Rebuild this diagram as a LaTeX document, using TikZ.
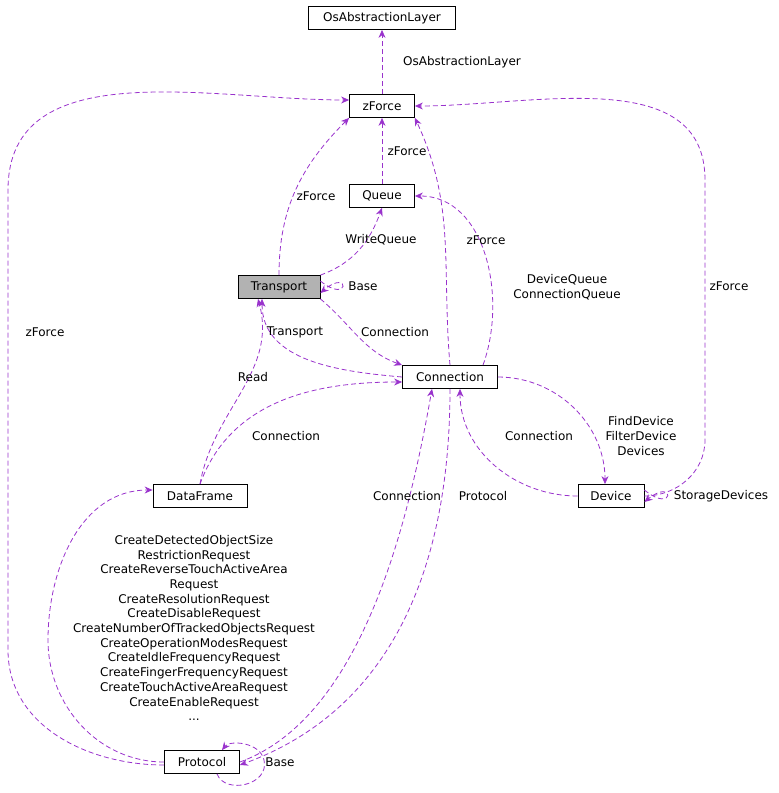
\documentclass[tikz,border=0pt]{standalone}
\usepackage{fontspec}
\setmainfont{DejaVu Sans}
\usetikzlibrary{arrows.meta}
\definecolor{linkc}{RGB}{153,50,204}
\tikzset{every loop/.style={}}

\begin{document}
\begin{tikzpicture}[x=1pt,y=-1pt,>={Stealth[length=8pt,width=7pt]},
                    font=\fontsize{12}{14.7}\selectfont,
                    cls/.style={draw,thick,minimum height=23pt,inner sep=2pt,fill=white},
                    dep/.style={->,dashed,linkc,thick,dash pattern=on 5pt off 3pt},
                    lbl/.style={inner sep=1pt,align=center}]
  \useasboundingbox (0,0) rectangle (779,793);

  \node[cls,minimum width=147pt] (osal) at (382,18) {OsAbstractionLayer};
  \node[cls,minimum width=65pt] (zforce) at (382,106) {zForce};
  \node[cls,minimum width=65pt] (queue) at (382,196) {Queue};
  \node[cls,minimum width=82pt,fill=black!30] (transport) at (279,287) {Transport};
  \node[cls,minimum width=95pt] (connection) at (450,377) {Connection};
  \node[cls,minimum width=66pt] (device) at (611,496) {Device};
  \node[cls,minimum width=94pt] (dataframe) at (200,496) {DataFrame};
  \node[cls,minimum width=75pt] (protocol) at (202,762) {Protocol};

  \path[dep]
    (zforce) edge (osal)
    (queue) edge (zforce)
    (transport.north) edge[out=90,in=225] (zforce.south west)
    (transport.north east) edge[out=20,in=250] (queue.south)
    (transport.south east) edge[out=-40,in=160] (connection.north west)
    (connection.west) edge[out=175,in=-90] ([xshift=-17pt]transport.south)
    (connection.north) edge[out=95,in=-65] (zforce.south east)
    ([xshift=33pt]connection.north) edge[out=70,in=0] (queue.east)
    (dataframe.north) edge[out=80,in=-75] ([xshift=-21pt]transport.south)
    (dataframe.north) edge[out=70,in=180] ([yshift=-5pt]connection.west)
    (connection.east) edge[out=0,in=90] ([xshift=-6pt]device.north)
    (device.west) edge[out=180,in=-90] ([xshift=10pt]connection.south)
    (protocol.east) edge[out=20,in=-100,looseness=0.8] ([xshift=-18pt]connection.south)
    ;
  \draw[dep] ([yshift=6pt]transport.east) .. controls (350,305) and (350,268) .. ([yshift=-6pt]transport.east);
  \draw[dep] ([yshift=6pt]device.east) .. controls (675,515) and (675,477) .. ([yshift=-6pt]device.east);
  \draw[dep] ([xshift=15pt]protocol.south) .. controls (225,795) and (270,785) .. (264,760)
    .. controls (260,742) and (230,740) .. ([xshift=20pt]protocol.north);
  \draw[dep] (connection.south) to[out=-90,in=20] ([yshift=-3pt]protocol.east);
  \draw[dep] (device.east) to[out=0,in=-90] (705,440) -- (705,180) to[out=90,in=0] (zforce.east);
  \draw[dep] (protocol.west) to[out=180,in=-90] (48,640) to[out=90,in=180] ([yshift=6pt]dataframe.west);
  \draw[dep] ([yshift=-3pt]protocol.west) to[out=180,in=-90] (8,650) -- (8,190)
    to[out=90,in=180] ([yshift=6pt]zforce.west);

  \node[lbl] (l1) at (462,62) {OsAbstractionLayer};
  \node[lbl] (l2) at (407,151) {zForce};
  \node[lbl] (l3) at (316,196) {zForce};
  \node[lbl] (l4) at (381,240) {WriteQueue};
  \node[lbl] (l5) at (363,286) {Base};
  \node[lbl] (l6) at (395,332) {Connection};
  \node[lbl] (l7) at (295,332) {Transport};
  \node[lbl] (l8) at (486,240) {zForce};
  \node[lbl] (l9) at (567,287) {DeviceQueue\\ConnectionQueue};
  \node[lbl] (l10) at (729,286) {zForce};
  \node[lbl] (l11) at (45,332) {zForce};
  \node[lbl] (l12) at (253,377) {Read};
  \node[lbl] (l13) at (286,436) {Connection};
  \node[lbl] (l14) at (641,436) {FindDevice\\FilterDevice\\Devices};
  \node[lbl] (l15) at (539,436) {Connection};
  \node[lbl] (l16) at (721,496) {StorageDevices};
  \node[lbl] (l17) at (407,496) {Connection};
  \node[lbl] (l18) at (483,496) {Protocol};
  \node[lbl] (l19) at (280,762) {Base};
  \node[lbl] (l20) at (194,628) {CreateDetectedObjectSize\\RestrictionRequest\\
    CreateReverseTouchActiveArea\\Request\\CreateResolutionRequest\\CreateDisableRequest\\
    CreateNumberOfTrackedObjectsRequest\\CreateOperationModesRequest\\CreateIdleFrequencyRequest\\
    CreateFingerFrequencyRequest\\CreateTouchActiveAreaRequest\\CreateEnableRequest\\...};
\end{tikzpicture}
\end{document}
